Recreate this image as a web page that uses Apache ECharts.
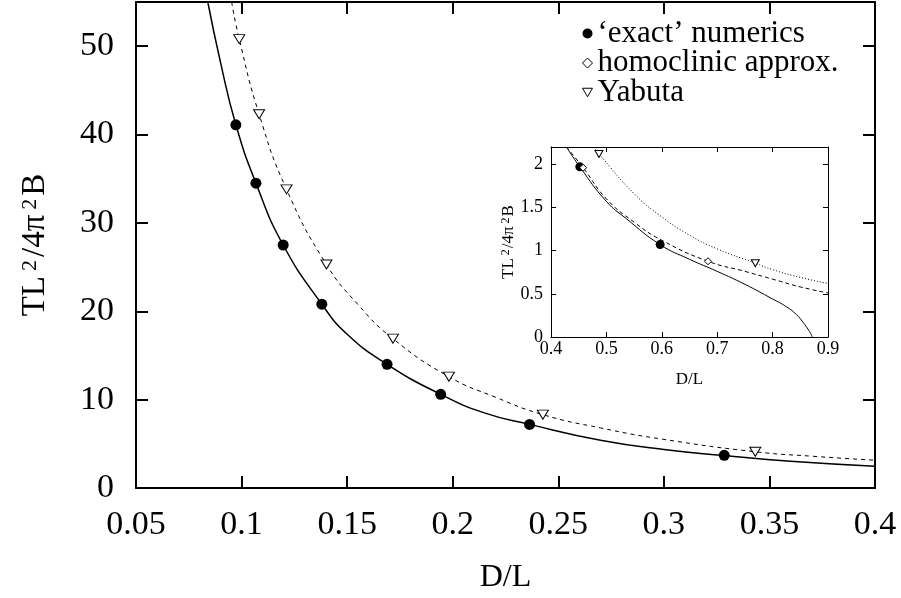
<!DOCTYPE html>
<html>
<head>
<meta charset="utf-8">
<script src="https://cdn.jsdelivr.net/npm/echarts/dist/echarts.min.js"></script>
<style>
html, body { margin: 0; padding: 0; background: #fff; }
#chart { width: 901px; height: 598px; }
</style>
</head>
<body>
<div id="chart"></div>
<script>
// main plot: curves [D/L, TL^2/4pi^2B]
var exactCurve = [[0.084, 55], [0.09, 48.2], [0.0973, 41.1], [0.1068, 34.5], [0.1197, 27.5], [0.138, 20.8],
  [0.15, 17.4], [0.1689, 14.0], [0.1943, 10.6], [0.215, 8.5], [0.2364, 7.2], [0.27, 5.4], [0.3, 4.35],
  [0.3286, 3.67], [0.36, 3.02], [0.4, 2.46]];
var exactPoints = [[0.0973, 41.1], [0.1068, 34.5], [0.1197, 27.5], [0.138, 20.8], [0.1689, 14.0],
  [0.1943, 10.6], [0.2364, 7.2], [0.3286, 3.7]];
var yabutaCurve = [[0.0953, 55], [0.0989, 50.8], [0.1083, 42.3], [0.1213, 33.8], [0.1402, 25.3], [0.155, 20.8],
  [0.1717, 16.9], [0.1982, 12.6], [0.22, 10.3], [0.2427, 8.3], [0.27, 6.8], [0.3, 5.5], [0.3433, 4.1],
  [0.37, 3.6], [0.4, 3.14]];
var yabutaPoints = [[0.0989, 50.8], [0.1083, 42.3], [0.1213, 33.8], [0.1402, 25.3], [0.1717, 16.9],
  [0.1982, 12.6], [0.2427, 8.3], [0.3433, 4.1]];

// inset
var insetExactCurve = [[0.428, 2.2], [0.452, 1.97], [0.5, 1.57], [0.536, 1.37], [0.597, 1.07], [0.65, 0.9],
  [0.7, 0.76], [0.75, 0.61], [0.8, 0.44], [0.825, 0.35], [0.843, 0.26], [0.855, 0.17], [0.865, 0.08], [0.872, 0]];
var insetExactPoints = [[0.452, 1.97], [0.597, 1.07]];
var homoCurve = [[0.428, 2.2], [0.458, 1.96], [0.5, 1.6], [0.55, 1.33], [0.6, 1.12], [0.6834, 0.877],
  [0.75, 0.76], [0.8, 0.67], [0.85, 0.58], [0.9, 0.51]];
var homoPoints = [[0.458, 1.96], [0.6834, 0.877]];
var insetYabutaCurve = [[0.477, 2.2], [0.4866, 2.12], [0.55, 1.66], [0.6, 1.39], [0.65, 1.18], [0.7, 1.02],
  [0.7688, 0.855], [0.8, 0.78], [0.85, 0.69], [0.9, 0.62]];
var insetYabutaPoints = [[0.4866, 2.12], [0.7688, 0.855]];

var legendNames = ['\u2018exact\u2019 numerics', 'homoclinic approx.', 'Yabuta'];

var font = "'Liberation Serif', 'Times New Roman', serif";
var tri = 'path://M0,0 L10,0 L5,8.5 Z';
var hollow = { color: '#fff', borderColor: '#000', borderWidth: 1, opacity: 1 };
var solidDot = { color: '#000', opacity: 1 };

function xAx(grid, pos, min, max, interval, tickLen, lw, showLabel, labelSize, margin) {
  return {
    type: 'value', gridIndex: grid, position: pos, min: min, max: max, interval: interval,
    axisLine: { show: true, onZero: false, lineStyle: { color: '#000', width: lw } },
    axisTick: { show: true, inside: true, length: tickLen, lineStyle: { color: '#000', width: lw } },
    axisLabel: { show: showLabel, fontFamily: font, fontSize: labelSize, color: '#000', margin: margin, showMaxLabel: true },
    splitLine: { show: false }
  };
}
function yAx(grid, pos, min, max, interval, tickLen, lw, showLabel, labelSize, margin) {
  var a = xAx(grid, pos, min, max, interval, tickLen, lw, showLabel, labelSize, margin);
  a.axisLabel.showMaxLabel = false;
  return a;
}

var mainX = xAx(0, 'bottom', 0.05, 0.4, 0.05, 12, 2, true, 34, 20);
mainX.name = 'D/L';
mainX.nameLocation = 'middle';
mainX.nameGap = 74;
mainX.nameTextStyle = { fontFamily: font, fontSize: 32, color: '#000' };

var mainY = yAx(0, 'left', 0, 55, 10, 12, 2, true, 34, 22);
mainY.name = 'TL{s|2}/4\u03c0{s|2}B';
mainY.nameLocation = 'middle';
mainY.nameGap = 84;
mainY.nameTextStyle = { fontFamily: font, fontSize: 33, color: '#000',
  rich: { s: { fontFamily: font, fontSize: 22, color: '#000', verticalAlign: 'top', padding: [0, 3, 0, 5] } } };

var insX = xAx(1, 'bottom', 0.4, 0.9, 0.1, 5, 1, true, 18, 3);
insX.name = 'D/L';
insX.nameLocation = 'middle';
insX.nameGap = 34;
insX.nameTextStyle = { fontFamily: font, fontSize: 17, color: '#000' };

var insY = yAx(1, 'left', 0, 2.2, 0.5, 5, 1, true, 18, 8);
insY.name = 'TL{s|2}/4\u03c0{s|2}B';
insY.nameLocation = 'middle';
insY.nameGap = 30;
insY.nameTextStyle = { fontFamily: font, fontSize: 17, color: '#000',
  rich: { s: { fontFamily: font, fontSize: 12, color: '#000', verticalAlign: 'top', padding: [0, 1, 0, 3] } } };

function lineSeries(xi, data, width, type) {
  return {
    type: 'line', xAxisIndex: xi, yAxisIndex: xi, data: data, showSymbol: false, symbol: 'none',
    smooth: 0.5, silent: true, z: 2,
    lineStyle: { color: '#000', width: width, type: type }
  };
}
function pointSeries(xi, name, data, symbol, size, style) {
  return {
    type: 'scatter', name: name, xAxisIndex: xi, yAxisIndex: xi, data: data,
    symbol: symbol, symbolSize: size, itemStyle: style, z: 5
  };
}

var option = {
  backgroundColor: '#fff',
  animation: false,
  grid: [
    { left: 136, right: 26, top: 2, bottom: 110, outerBoundsMode: 'none' },
    { left: 551, right: 73, top: 147, bottom: 261, show: true, backgroundColor: '#fff', borderWidth: 0, outerBoundsMode: 'none' }
  ],
  legend: {
    orient: 'vertical', left: 577, top: 13, itemWidth: 10, itemHeight: 10, itemGap: -1.5,
    textStyle: { fontFamily: font, fontSize: 31, color: '#000', lineHeight: 29 },
    data: [
      { name: legendNames[0], icon: 'circle', itemStyle: solidDot },
      { name: legendNames[1], icon: 'diamond', itemStyle: hollow },
      { name: legendNames[2], icon: tri, itemStyle: hollow }
    ]
  },
  xAxis: [
    mainX,
    xAx(0, 'top', 0.05, 0.4, 0.05, 12, 2, false, 32, 8),
    insX,
    xAx(1, 'top', 0.4, 0.9, 0.1, 5, 1, false, 18, 8)
  ],
  yAxis: [
    mainY,
    yAx(0, 'right', 0, 55, 10, 12, 2, false, 32, 8),
    insY,
    yAx(1, 'right', 0, 2.2, 0.5, 5, 1, false, 18, 8)
  ],
  series: [
    lineSeries(0, exactCurve, 1.5, 'solid'),
    lineSeries(0, yabutaCurve, 1, [4, 4]),
    pointSeries(0, legendNames[0], exactPoints, 'circle', 11, solidDot),
    pointSeries(0, legendNames[2], yabutaPoints, tri, [11, 9], hollow),

    lineSeries(2, insetExactCurve, 1, 'solid'),
    lineSeries(2, homoCurve, 1, [4, 3]),
    lineSeries(2, insetYabutaCurve, 1, [1, 2]),
    pointSeries(2, legendNames[0], insetExactPoints, 'circle', 9, solidDot),
    pointSeries(2, legendNames[1], homoPoints, 'diamond', 7, hollow),
    pointSeries(2, legendNames[2], insetYabutaPoints, tri, [8, 7], hollow)
  ]
};

var myChart = echarts.init(document.getElementById('chart'));
myChart.setOption(option);
</script>
</body>
</html>
